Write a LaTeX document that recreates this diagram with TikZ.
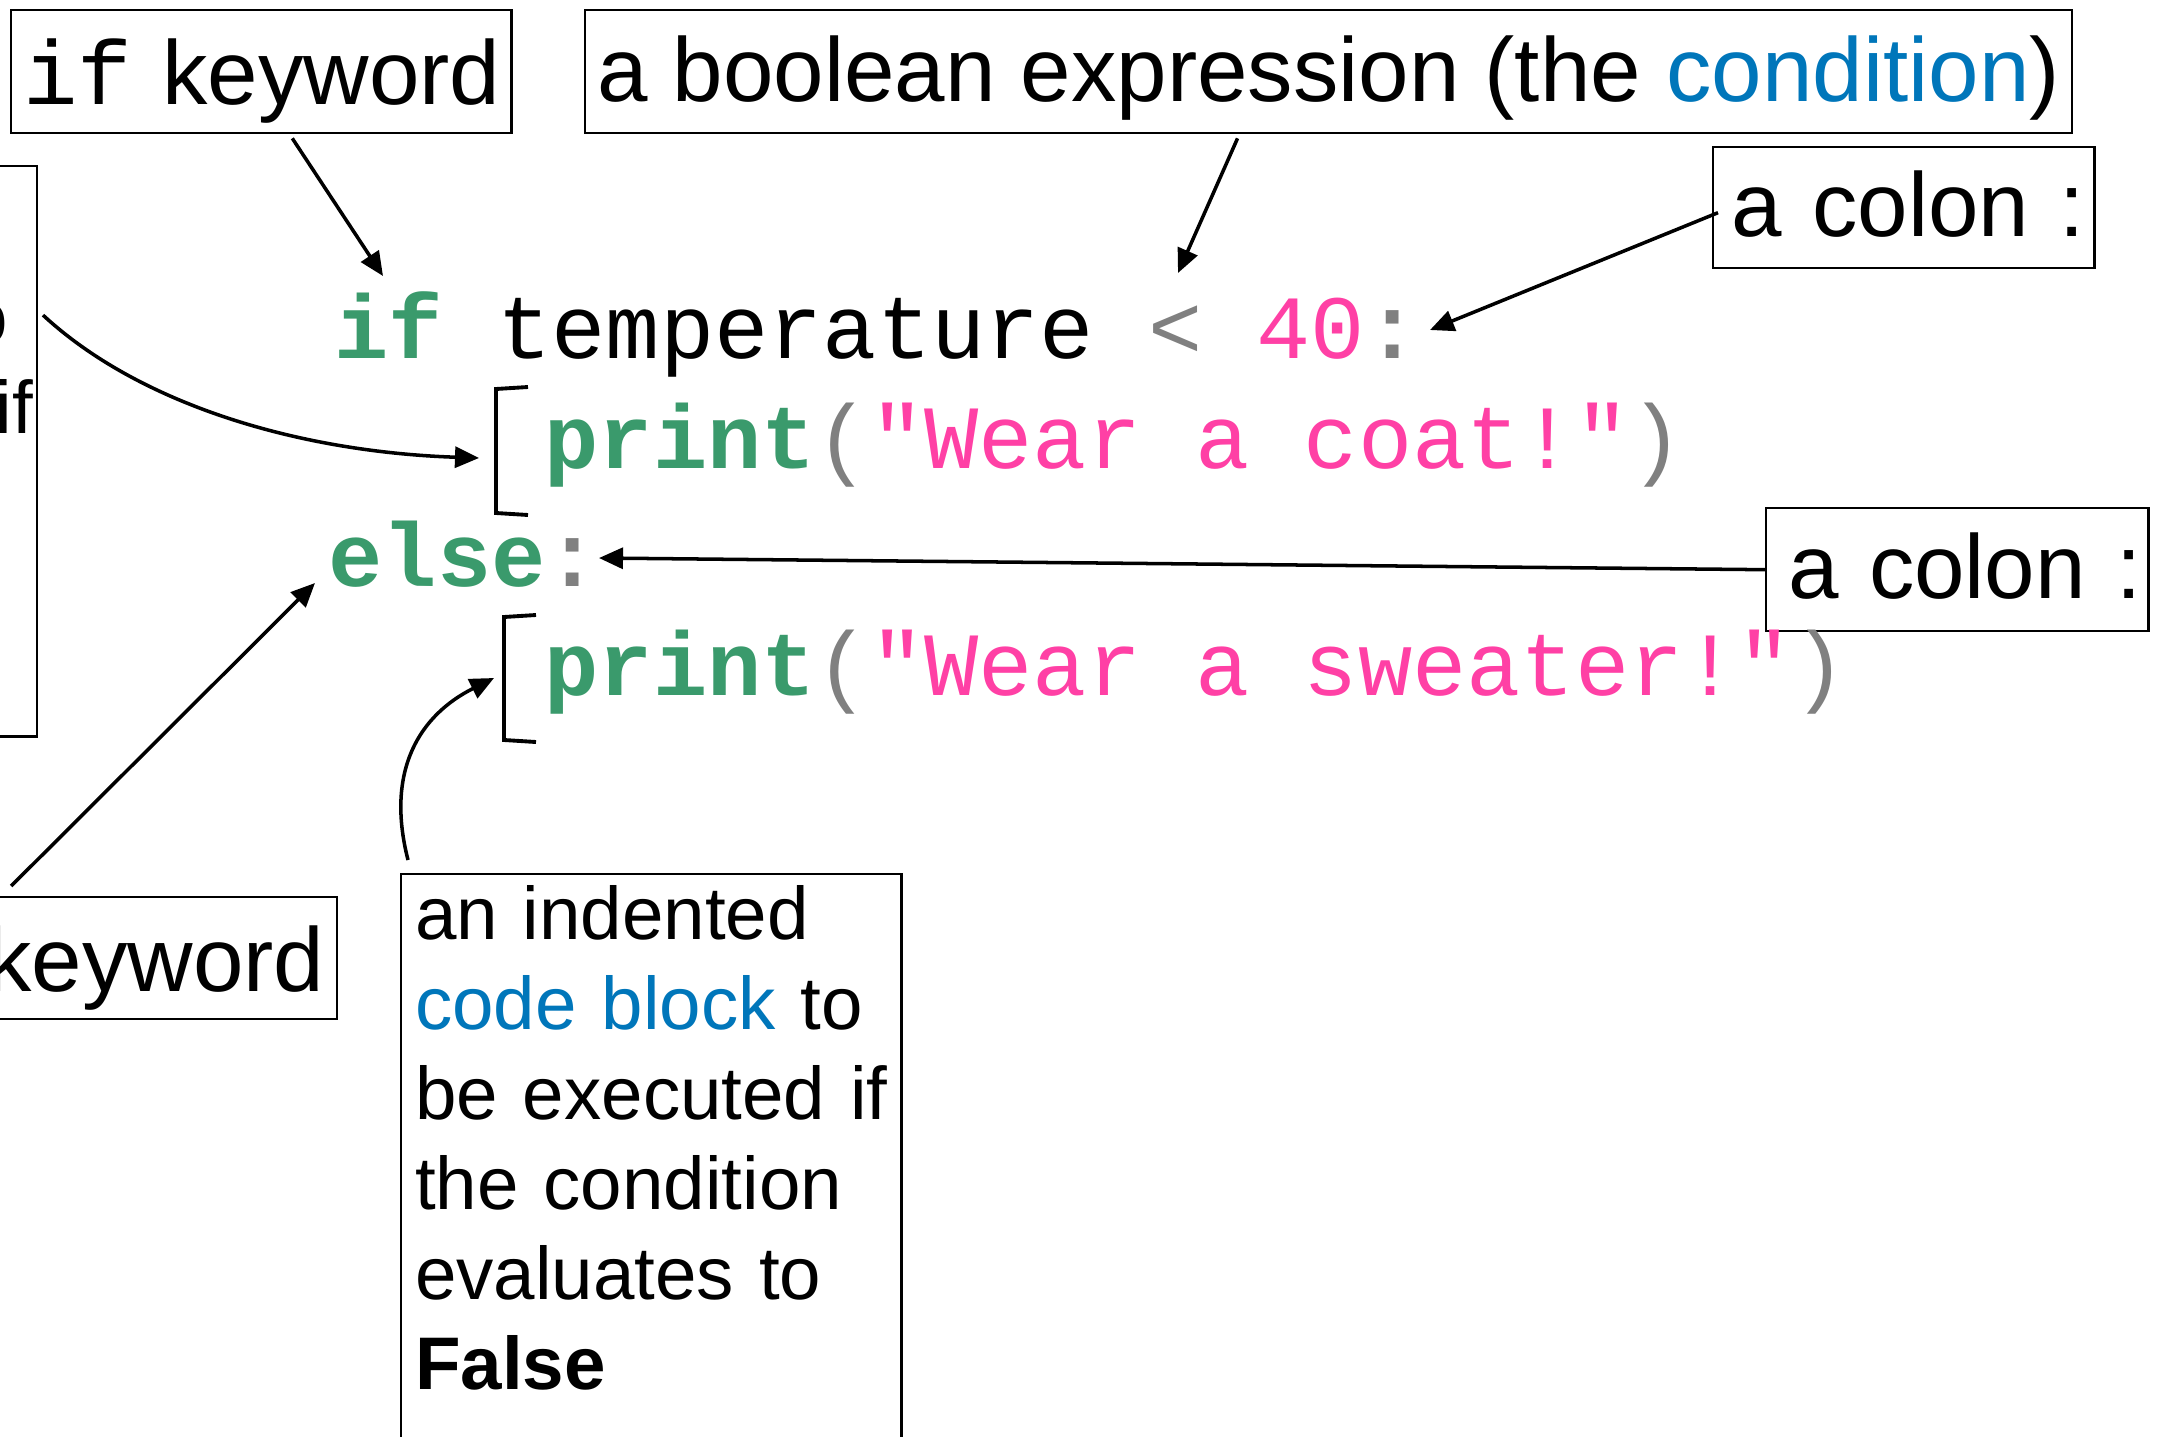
\documentclass[tikz,border=0pt]{standalone}
\usepackage{fontspec}
\setmainfont{Liberation Sans}
\newfontfamily\codefont{Liberation Mono}
\usetikzlibrary{arrows.meta,calc}
\definecolor{kwgreen}{RGB}{58,154,108}
\definecolor{strpink}{RGB}{255,64,165}
\definecolor{opgray}{RGB}{128,128,128}
\definecolor{condblue}{RGB}{0,118,186}
\newcommand{\kwd}[1]{{\bfseries\color{kwgreen}#1}}
\newcommand{\strg}[1]{{\color{strpink}#1}}
\newcommand{\opr}[1]{{\color{opgray}#1}}

\begin{document}
\begin{tikzpicture}[x=0.01cm,y=-0.01cm,>={Triangle[length=0.24cm,width=0.21cm]},
  labelbox/.style={draw,line width=0.65pt,inner ysep=0pt,font=\fontsize{25.8}{25.8}\selectfont},
  sidebox/.style={draw,line width=0.65pt,inner xsep=0.14cm,inner ysep=0pt,text width=4.72cm,align=left,font=\fontsize{21.2}{25.6}\selectfont},
  codeline/.style={anchor=base west,inner sep=0pt,font=\codefont\fontsize{25.7}{25.7}\selectfont},
  arr/.style={->,line width=1pt},
  brk/.style={line width=1.1pt}]
\useasboundingbox (0,0) rectangle (2161,1436);
\clip (0,0) rectangle (2161,1436);

% labels along the top
\node[labelbox,anchor=north west,text width=4.78cm,inner xsep=0.11cm,align=right,text height=0.94cm,text depth=0.29cm] (ifkw) at (10,9) {\mbox{{\codefont if} keyword}};
\node[labelbox,anchor=north west,inner xsep=0pt,minimum width=14.86cm,text height=0.91cm,text depth=0.32cm] (cond) at (584,9) {a boolean expression (the {\color{condblue}condition})};
\node[labelbox,anchor=north west,text width=3.62cm,inner xsep=0.095cm,align=right,text height=0.89cm,text depth=0.32cm] (colonA) at (1712,146) {\mbox{a colon :}};
\node[labelbox,anchor=north west,text width=3.68cm,inner xsep=0.07cm,align=right,text height=0.90cm,text depth=0.33cm] (colonB) at (1765,507) {\mbox{a colon :}};
\node[labelbox,anchor=north east,text width=5.85cm,inner xsep=0.13cm,align=right,text height=0.94cm,text depth=0.28cm] (elsekw) at (338,896) {\mbox{{\codefont else} keyword}};

% the two code block notes
\node[sidebox,anchor=north east,inner xsep=0.24cm,text width=4.52cm,text height=0.87cm,text depth=4.83cm] (blockT) at (38,165) {an indented\\{\color{condblue}code block} to\\\mbox{be executed if}\\the condition\\evaluates to\\\textbf{True}};
\node[sidebox,anchor=north west,text height=0.65cm,text depth=6cm] (blockF) at (400,873) {an indented\\{\color{condblue}code block} to\\\mbox{be executed if}\\the condition\\evaluates to\\\textbf{False}};

% the code
\node[codeline] (line1) at (334,358) {\kwd{if} temperature \opr{<} \strg{40}\opr{\bfseries :}};
\node[codeline] (line2) at (544,468) {\kwd{print}\opr{(}\strg{"Wear a coat!"}\opr{)}};
\node[codeline] (line3) at (328,586) {\kwd{else}\opr{\bfseries :}};
\node[codeline] (line4) at (544,695) {\kwd{print}\opr{(}\strg{"Wear a sweater!"}\opr{)}};

% brackets round the blocks
\draw[brk] (528,387) -- (496,389) -- (496,513) -- (528,515);
\draw[brk] (536,615) -- (504,617) -- (504,740) -- (536,742);

\coordinate (ifpt) at (383,276);
\coordinate (condpt) at (1178,273);
\coordinate (colonpt) at (1430,330);
\coordinate (elsecolon) at (599,558);
\coordinate (elsept) at (315,583);
\coordinate (blk1) at (479,458);
\coordinate (blk2) at (494,678);

\draw[arr] ([xshift=0.31cm,yshift=-0.04cm]ifkw.south) -- (ifpt);
\draw[arr] ([xshift=-0.91cm,yshift=-0.04cm]cond.south) -- (condpt);
\draw[arr] ([xshift=0.06cm,yshift=-0.05cm]colonA.west) -- (colonpt);
\draw[arr] (colonB.west) -- (elsecolon);
\draw[arr] ([xshift=-0.2cm,yshift=0.1cm]elsekw.north) -- (elsept);
\draw[arr] ([shift={(0.05cm,-1.5cm)}]blockT.north east) .. controls (140,405) and (300,452) .. (blk1);
\draw[arr] ([shift={(0.08cm,0.13cm)}]blockF.north west) .. controls (385,770) and (420,715) .. (blk2);
\end{tikzpicture}
\end{document}
